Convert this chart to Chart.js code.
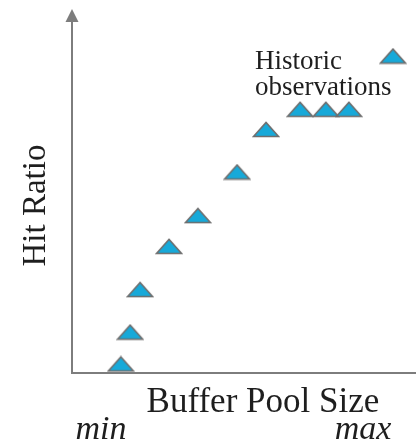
<!DOCTYPE html>
<html>
<head>
<meta charset="utf-8">
<script src="https://cdn.jsdelivr.net/npm/chart.js@4/dist/chart.umd.min.js"></script>
<style>
    html, body { margin: 0; padding: 0; background: #fff; }
    canvas { display: block; }
</style>
</head>
<body>
<canvas id="chart" width="416" height="443"></canvas>
<script>
// buffer pool size (0..100 = min..max range of the axis) and hit ratio (0..1)
const bufferSize = [14.2, 16.9, 19.8, 28.2, 36.6, 48.0, 56.4, 66.3, 73.8, 80.5, 93.3]
const hitRatio = [0.027, 0.122, 0.249, 0.378, 0.470, 0.600, 0.727, 0.787, 0.787, 0.787, 0.946]
const xTickValues = [8.4, 84.6]
const xTickLabels = ['min', 'max']
const xTitle = 'Buffer Pool Size'
const yTitle = 'Hit Ratio'
const noteLines = ['Historic', 'observations']
const notePos = [53.2, 0.907]

const axisColor = '#7d7d7d'
const textColor = '#1e1e1e'
const serif = 'Liberation Serif'

// flat triangle marker, like the original
function triangleMarker() {
    const c = document.createElement('canvas')
    c.width = 28
    c.height = 17
    const ctx = c.getContext('2d')
    ctx.beginPath()
    ctx.moveTo(1.5, 15.5)
    ctx.lineTo(26.5, 15.5)
    ctx.lineTo(14, 1.5)
    ctx.closePath()
    ctx.fillStyle = '#17a9d9'
    ctx.fill()
    ctx.lineWidth = 1.5
    ctx.strokeStyle = '#6e6e6e'
    ctx.stroke()
    return c
}

// arrow head on the y axis, x title and the "historic observations" note
const decorations = {
    id: 'decorations',
    afterDraw(chart) {
        const { ctx, chartArea, scales: { x, y } } = chart
        const ax = chartArea.left
        ctx.save()
        ctx.strokeStyle = axisColor
        ctx.fillStyle = axisColor
        ctx.lineWidth = 2
        ctx.beginPath()
        ctx.moveTo(ax, chartArea.top + 1)
        ctx.lineTo(ax, 20)
        ctx.stroke()
        ctx.beginPath()
        ctx.moveTo(ax - 6.5, 22)
        ctx.lineTo(ax + 6.5, 22)
        ctx.lineTo(ax, 9)
        ctx.closePath()
        ctx.fill()
        //
        ctx.fillStyle = textColor
        ctx.textBaseline = 'alphabetic'
        ctx.textAlign = 'left'
        ctx.font = '27px "' + serif + '"'
        noteLines.forEach((t, i) => {
            ctx.fillText(t, x.getPixelForValue(notePos[0]), y.getPixelForValue(notePos[1]) + i * 26)
        })
        ctx.textAlign = 'center'
        ctx.font = '35px "' + serif + '"'
        ctx.fillText(xTitle, x.getPixelForValue(55.5), chartArea.bottom + 39)
        ctx.restore()
    }
}

new Chart(document.getElementById('chart'), {
    type: 'scatter',
    data: {
        datasets: [
            {
                label: 'observations',
                data: bufferSize.map((v, i) => ({ x: v, y: hitRatio[i] })),
                pointStyle: triangleMarker(),
                clip: false
            }
        ]
    },
    options: {
        responsive: false,
        animation: false,
        // no auto padding for the points: the x axis runs to the right edge
        layout: { autoPadding: false, padding: { top: 38, right: 0, bottom: 0, left: 0 } },
        scales: {
            x: {
                type: 'linear',
                min: 0,
                max: 100,
                grid: { display: false, drawTicks: false },
                border: { display: true, color: axisColor, width: 2 },
                afterBuildTicks: axis => {
                    axis.ticks = xTickValues.map(v => ({ value: v }))
                },
                ticks: {
                    autoSkip: false,
                    maxRotation: 0,
                    padding: 2.6,
                    color: textColor,
                    font: { family: serif, size: 34, style: 'italic', lineHeight: 0.635 },
                    // two empty lines push min / max below the axis title
                    callback: (v, i) => ['', '', xTickLabels[i]]
                }
            },
            y: {
                min: 0,
                max: 1,
                ticks: { display: false },
                grid: { display: false, drawTicks: false },
                border: { display: true, color: axisColor, width: 2 },
                title: {
                    display: true,
                    text: yTitle,
                    color: textColor,
                    font: { family: serif, size: 33, lineHeight: 1.2 },
                    padding: { top: 17, bottom: 15.4 }
                }
            }
        },
        plugins: {
            legend: { display: false },
            tooltip: { enabled: false }
        }
    },
    plugins: [decorations]
})
</script>
</body>
</html>
